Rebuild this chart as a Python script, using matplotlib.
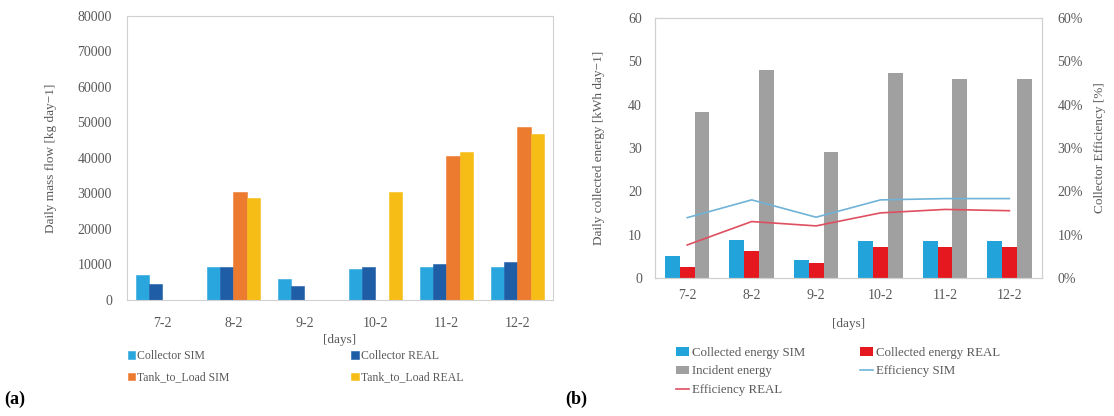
import matplotlib.pyplot as plt
import numpy as np

plt.rcParams['font.family'] = ['Liberation Serif', 'DejaVu Serif']

days = ['7-2', '8-2', '9-2', '10-2', '11-2', '12-2']

# (a) daily mass flow [kg/day]
collector_sim = [7100, 9400, 5900, 8700, 9300, 9300]
collector_real = [4600, 9400, 3900, 9300, 10100, 10700]
tank_sim = [0, 30400, 0, 0, 40600, 48700]
tank_real = [0, 28700, 0, 30400, 41700, 46800]

# (b) energy [kWh/day] and efficiency [%]
energy_sim = [5.1, 8.8, 4.2, 8.5, 8.4, 8.5]
energy_real = [2.6, 6.2, 3.5, 7.2, 7.1, 7.1]
incident = [38.3, 48.0, 29.0, 47.3, 46.0, 46.0]
eff_sim = [13.9, 18.0, 14.0, 18.0, 18.3, 18.3]
eff_real = [7.6, 13.0, 12.0, 15.0, 15.8, 15.5]

tick_col = '#595959'
spine_col = '#d0d0d0'
W, H = 1114, 416

fig = plt.figure(figsize=(W / 100, H / 100), dpi=100)

def style_axes(ax, ypad):
    for s in ax.spines.values():
        s.set_color(spine_col)
        s.set_linewidth(0.8)
    ax.tick_params(length=0, labelsize=10, colors=tick_col)
    ax.tick_params(axis='y', pad=ypad)

# ---------- panel (a) ----------
ax1 = fig.add_axes([0.114, 0.279, 0.3824, 0.683])
x = np.arange(len(days))
w = 0.185
series_a = [
    (collector_sim, '#2aa6de', 'Collector SIM'),
    (collector_real, '#1f5ea6', 'Collector REAL'),
    (tank_sim, '#ec7a2f', 'Tank_to_Load SIM'),
    (tank_real, '#f6bd16', 'Tank_to_Load REAL'),
]
bars_a = []
for i, (vals, col, lab) in enumerate(series_a):
    b = ax1.bar(x + (i - 1.5) * w, vals, w, color=col, label=lab,
                edgecolor=col, linewidth=0.4)
    bars_a.append(b)
ax1.set_xlim(-0.5, 5.5)
ax1.set_ylim(0, 80000)
ax1.set_yticks(range(0, 80001, 10000))
ax1.set_xticks(x)
ax1.set_xticklabels(days)
style_axes(ax1, 10.8)
ax1.tick_params(axis='x', pad=12)
ax1.set_ylabel('Daily mass flow [kg day\u22121]', fontsize=9.5, color=tick_col)
ax1.yaxis.set_label_coords(-0.165, 0.5)
ax1.set_xlabel('[days]', fontsize=9.5, color=tick_col)
ax1.xaxis.set_label_coords(0.5, -0.12)
order = [0, 2, 1, 3]
ax1.legend([bars_a[i] for i in order], [series_a[i][2] for i in order],
           loc='upper left', bbox_to_anchor=(128 / W, 1 - 350 / H),
           bbox_transform=fig.transFigure, ncol=2,
           frameon=False, fontsize=8.5, handlelength=0.6, handleheight=0.6,
           handletextpad=0.2, columnspacing=10.3, labelspacing=0.8,
           labelcolor=tick_col, borderaxespad=0, borderpad=0)

# ---------- panel (b) ----------
ax2 = fig.add_axes([0.588, 0.332, 0.347, 0.625])
w2 = 0.23
b1 = ax2.bar(x - w2, energy_sim, w2, color='#22a3d9', label='Collected energy SIM')
b2 = ax2.bar(x, energy_real, w2, color='#e5171f', label='Collected energy REAL')
b3 = ax2.bar(x + w2, incident, w2, color='#a0a0a0', label='Incident energy')
ax2.set_xlim(-0.5, 5.5)
ax2.set_ylim(0, 60)
ax2.set_yticks(range(0, 61, 10))
ax2.set_xticks(x)
ax2.set_xticklabels(days)
style_axes(ax2, 9.4)
ax2.tick_params(axis='x', pad=8)
ax2.set_ylabel('Daily collected energy [kWh day\u22121]', fontsize=9.5, color=tick_col)
ax2.yaxis.set_label_coords(-0.13, 0.5)
ax2.set_xlabel('[days]', fontsize=9.5, color=tick_col)
ax2.xaxis.set_label_coords(0.5, -0.155)

ax3 = ax2.twinx()
l1, = ax3.plot(x, eff_sim, color='#6fb3d8', lw=1.2, label='Efficiency SIM')
l2, = ax3.plot(x, eff_real, color='#de4f60', lw=1.2, label='Efficiency REAL')
ax3.set_ylim(0, 60)
ax3.set_yticks(range(0, 61, 10))
ax3.set_yticklabels([f'{v}%' for v in range(0, 61, 10)])
style_axes(ax3, 11.5)
ax3.set_ylabel('Collector Efficiency [%]', fontsize=9.5, color=tick_col)
ax3.yaxis.set_label_coords(1.135, 0.5)

handles = [b1, b3, l2, b2, l1]
labels = [h.get_label() for h in handles]
ax2.legend(handles, labels, loc='upper left',
           bbox_to_anchor=(676 / W, 1 - 347 / H),
           bbox_transform=fig.transFigure, ncol=2,
           frameon=False, fontsize=9.3, handlelength=1.0, handleheight=0.6,
           handletextpad=0.2, columnspacing=4.3, labelspacing=0.5,
           labelcolor=tick_col, borderaxespad=0, borderpad=0)

fig.text(0.004, 0.03, '(a)', fontsize=13, fontweight='bold')
fig.text(0.507, 0.03, '(b)', fontsize=13, fontweight='bold')

fig.savefig('out.png', dpi=100)
